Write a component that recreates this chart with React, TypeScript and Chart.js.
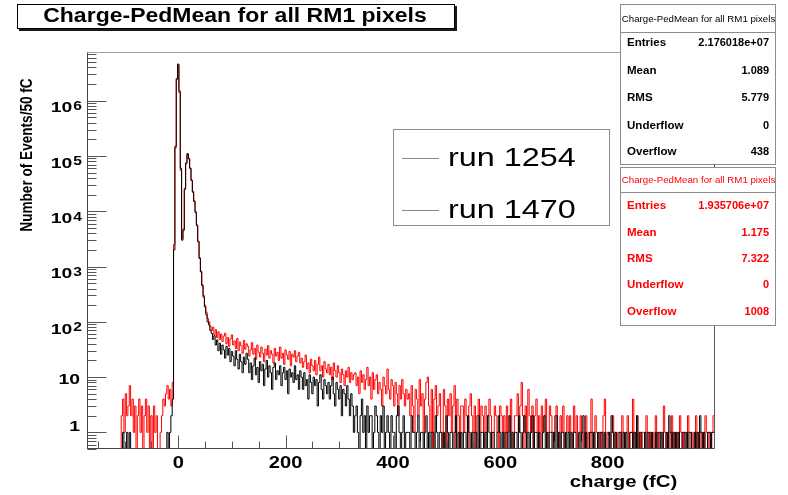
import React, { useEffect, useRef } from 'react';
import { Chart, registerables } from 'chart.js';

Chart.register(...registerables);

// ---------------- data ----------------
const TITLE = 'Charge-PedMean for all RM1 pixels';
const X_TITLE = 'charge (fC)';
const Y_TITLE = 'Number of Events/50 fC';
const SERIES_LABELS = ['run 1254', 'run 1470'];
const SERIES_COLORS = ['#000000', '#ff0000'];

const BIN_START = -171.25; // left edge of first bin (fC)
const BIN_WIDTH = 2.5; // fC
const X_MIN = -170;
const X_MAX = 1000;
const Y_MIN = 0.5;
const Y_MAX = 7.6e6;
const X_TICK_LABELS = [0, 200, 400, 600, 800];
const Y_TICK_EXPONENTS = [0, 1, 2, 3, 4, 5, 6];

// run 1254 (black); bins of 2.5 fC, centres -170 ... 997.5 (rows of 100 fC)
const RUN1254 = [
  0, 0, 0, 0, 0, 0, 0, 0, 0, 0, 0, 0, 0, 0, 0, 0, 0, 0, 0, 0, 0, 0, 0, 0, 0, 0, 0, 1, 0, 0, 1, 0, 1, 0, 0, 0, 0, 0, 0, 0,
  0, 0, 0, 0, 0, 0, 0, 0, 0, 0, 0, 0, 0, 0, 0, 0, 0, 0, 0, 0, 1, 0, 1, 2, 4, 2000, 150000, 2500000, 4600000, 1500000,
  60000, 3000, 4500, 25000, 75000, 110000, 90000, 60000, 36000, 22000,
  15000, 9500, 5500, 2800, 1400, 800, 450, 280, 185, 135, 100, 88, 70, 62, 48, 56, 38, 47, 30, 41,
  26, 38, 31, 22, 36, 25, 33, 19, 29, 24, 16, 30, 21, 14, 26, 19, 12, 23, 17, 27,
  21, 12, 18, 9, 16, 22, 11, 15, 8, 19, 13, 17, 7, 14, 20, 10, 16, 12, 6, 15,
  18, 9, 13, 11, 16, 7, 12, 15, 9, 13, 5, 14, 10, 12, 8, 16, 9, 11, 6, 13,
  10, 6, 12, 7, 9, 4, 11, 8, 5, 10, 7, 9, 3, 8, 11, 6, 4, 9, 7, 5,
  8, 4, 7, 10, 5, 3, 8, 6, 4, 7, 2, 6, 5, 3, 7, 4, 2, 5, 3, 1,
  2, 3, 1, 0, 2, 4, 1, 2, 0, 3, 1, 2, 2, 0, 1, 3, 2, 1, 0, 2,
  1, 3, 0, 1, 2, 1, 0, 2, 1, 1, 0, 2, 3, 1, 0, 1, 2, 0, 1, 1,
  1, 0, 2, 1, 1, 0, 1, 2, 0, 1, 1, 0, 1, 2, 0, 1, 0, 1, 1, 0,
  2, 1, 0, 1, 1, 0, 1, 0, 2, 1, 0, 1, 1, 0, 1, 2, 0, 1, 0, 1,
  0, 1, 1, 0, 2, 1, 0, 1, 0, 1, 1, 0, 2, 0, 1, 1, 0, 1, 0, 2,
  1, 0, 1, 1, 0, 0, 1, 2, 1, 0, 1, 0, 1, 1, 0, 2, 0, 1, 0, 1,
  1, 0, 2, 1, 0, 1, 2, 1, 0, 1, 0, 1, 2, 0, 1, 1, 0, 1, 0, 0,
  1, 2, 0, 1, 0, 1, 1, 0, 1, 0, 2, 0, 1, 0, 1, 1, 0, 1, 0, 1,
  0, 1, 0, 1, 1, 0, 0, 1, 0, 1, 2, 0, 1, 0, 0, 1, 1, 0, 1, 0,
  0, 1, 0, 1, 1, 0, 1, 0, 0, 1, 0, 2, 1, 0, 1, 0, 0, 1, 1, 0,
  1, 0, 1, 0, 0, 1, 1, 0, 1, 0, 2, 0, 1, 1, 0, 0, 1, 0, 1, 1,
  0, 1, 0, 0, 1, 0, 1, 1, 0, 1, 0, 0, 1, 0, 2, 1, 0, 1, 0, 1,
  0, 1, 0, 0, 1, 1, 0, 1, 0, 1, 1, 0, 0, 1, 0, 1, 0, 2, 1, 0, 1, 0, 0, 1, 1, 0, 1, 1,
];

// run 1470 (red)
const RUN1470 = [
  0, 0, 0, 0, 0, 0, 0, 0, 0, 0, 0, 0, 0, 0, 0, 0, 0, 0, 0, 0, 0, 0, 0, 0, 0, 0, 2, 4, 1, 5, 2, 3, 7, 2, 4, 1, 3, 0, 2, 4,
  1, 3, 0, 2, 4, 1, 3, 0, 2, 0, 3, 1, 2, 0, 0, 1, 2, 4, 3, 5, 7, 4, 6, 3, 8, 2500, 140000, 2400000, 4400000, 1400000,
  55000, 3200, 4800, 26000, 72000, 108000, 88000, 60000, 37000, 23000,
  15500, 9800, 5700, 2900, 1450, 830, 470, 300, 200, 150, 115, 100, 82, 70, 80, 58, 72, 52, 66, 48,
  60, 44, 55, 62, 40, 52, 36, 49, 58, 38, 45, 33, 50, 30, 43, 37, 27, 46, 32, 40,
  36, 24, 31, 42, 26, 33, 21, 38, 28, 23, 35, 27, 19, 32, 25, 37, 22, 30, 26, 18,
  33, 24, 28, 20, 35, 22, 27, 17, 31, 25, 21, 29, 16, 26, 23, 30, 19, 24, 28, 18,
  22, 15, 19, 25, 14, 18, 12, 21, 16, 13, 20, 11, 17, 23, 13, 16, 10, 19, 14, 12,
  17, 11, 15, 9, 18, 13, 10, 16, 12, 8, 14, 11, 7, 13, 10, 15, 8, 12, 9, 11,
  12, 7, 10, 5, 13, 8, 11, 6, 9, 15, 7, 10, 4, 12, 6, 9, 11, 5, 8, 6,
  3, 10, 7, 5, 14, 6, 4, 9, 7, 3, 8, 5, 2, 7, 4, 9, 5, 3, 6, 4,
  5, 2, 7, 3, 1, 6, 4, 2, 9, 3, 5, 1, 4, 8, 10, 3, 1, 6, 0, 4,
  7, 2, 3, 5, 1, 0, 6, 3, 0, 4, 2, 5, 1, 3, 7, 0, 4, 2, 0, 3,
  3, 1, 4, 2, 0, 3, 5, 2, 1, 3, 0, 2, 4, 1, 3, 2, 0, 3, 1, 2,
  4, 2, 0, 1, 3, 2, 1, 0, 3, 2, 1, 2, 0, 3, 1, 2, 4, 1, 0, 2,
  2, 5, 1, 3, 8, 2, 0, 3, 1, 6, 2, 1, 3, 0, 2, 4, 1, 2, 0, 3,
  1, 2, 4, 0, 1, 3, 2, 1, 0, 2, 3, 1, 0, 2, 1, 3, 0, 1, 2, 1,
  2, 1, 0, 3, 1, 2, 0, 1, 2, 1, 0, 1, 2, 0, 1, 0, 4, 1, 0, 2,
  1, 0, 1, 1, 0, 2, 4, 0, 1, 1, 0, 1, 2, 0, 1, 0, 1, 1, 0, 2,
  1, 0, 1, 2, 0, 1, 1, 4, 0, 1, 2, 0, 1, 0, 1, 1, 0, 2, 1, 0,
  1, 0, 1, 0, 2, 1, 0, 1, 1, 0, 3, 1, 0, 1, 0, 1, 2, 0, 1, 0,
  1, 0, 2, 1, 0, 1, 1, 0, 2, 1, 0, 1, 0, 1, 2, 0, 1, 1, 0, 1, 0, 2, 1, 0, 1, 0, 1, 2,
];

const STATS_LABELS = ['Entries', 'Mean', 'RMS', 'Underflow', 'Overflow'];
const STATS_1254 = ['2.176018e+07', '1.089', '5.779', '0', '438'];
const STATS_1470 = ['1.935706e+07', '1.175', '7.322', '0', '1008'];

// ---------------- helpers ----------------
const FLOOR = 0.1; // empty bins drawn below the axis minimum (clipped)

function toSteps(values: number[]) {
  const pts = values.map((v, i) => ({ x: BIN_START + i * BIN_WIDTH, y: v > 0 ? v : FLOOR }));
  const last = values[values.length - 1];
  pts.push({ x: BIN_START + values.length * BIN_WIDTH, y: last > 0 ? last : FLOOR });
  return pts;
}

const FONT = '"Liberation Sans", Arial, Helvetica, sans-serif';

function txt(
  ctx: CanvasRenderingContext2D,
  s: string,
  x: number,
  y: number,
  font: string,
  color: string,
  align: 'left' | 'center' | 'right',
  sx = 1,
  baseline: CanvasTextBaseline = 'middle'
) {
  ctx.save();
  ctx.font = font;
  ctx.fillStyle = color;
  ctx.textBaseline = baseline;
  ctx.textAlign = 'left';
  const w = ctx.measureText(s).width * sx;
  const left = align === 'left' ? x : align === 'center' ? x - w / 2 : x - w;
  ctx.translate(left, y);
  ctx.scale(sx, 1);
  ctx.fillText(s, 0, 0);
  ctx.restore();
  return w;
}

function seg(ctx: CanvasRenderingContext2D, x1: number, y1: number, x2: number, y2: number) {
  ctx.beginPath();
  ctx.moveTo(x1, y1);
  ctx.lineTo(x2, y2);
  ctx.stroke();
}

function statsBox(
  ctx: CanvasRenderingContext2D,
  x: number,
  y: number,
  w: number,
  h: number,
  divY: number,
  rowsY: number[],
  values: string[],
  color: string
) {
  ctx.fillStyle = '#ffffff';
  ctx.fillRect(x, y, w, h);
  ctx.strokeStyle = '#8c8c8c';
  ctx.lineWidth = 1;
  ctx.strokeRect(x + 0.5, y + 0.5, w, h);
  seg(ctx, x, divY + 0.5, x + w, divY + 0.5);
  txt(ctx, TITLE, x + w / 2 + 1, y + (divY - y) / 2 + 1, `9.5px ${FONT}`, color, 'center', 1.02);
  STATS_LABELS.forEach((lab, i) => {
    txt(ctx, lab, x + 7, rowsY[i], `bold 11px ${FONT}`, color, 'left', 1.05);
    txt(ctx, values[i], x + w - 6, rowsY[i], `bold 11px ${FONT}`, color, 'right', 1.0);
  });
}

const decorPlugin = {
  id: 'rootDecor',
  afterDraw(chart: any) {
    const { ctx, chartArea: a, scales } = chart;
    const xs = scales.x;
    const ys = scales.y;
    const L = Math.round(a.left) + 0.5;
    const R = Math.round(a.right) - 0.5;
    const T = Math.round(a.top) + 0.5;
    const B = Math.round(a.bottom) - 0.5;
    ctx.save();
    ctx.lineWidth = 1;

    // frame
    ctx.strokeStyle = '#a0a0a0';
    seg(ctx, L, T, R, T);
    ctx.strokeStyle = '#5a5a5a';
    seg(ctx, R, T, R, B);
    ctx.strokeStyle = '#444444';
    seg(ctx, L, T, L, B + 0.5);
    seg(ctx, L - 0.5, B, R, B);

    // y ticks (log, inward)
    ctx.strokeStyle = '#555555';
    for (let e = -1; e <= 7; e++) {
      for (let m = 1; m <= 9; m++) {
        const v = m * Math.pow(10, e);
        if (v < Y_MIN || v > Y_MAX) continue;
        const y = Math.round(ys.getPixelForValue(v)) + 0.5;
        const len = m === 1 ? 19 : 9;
        seg(ctx, L, y, L + len, y);
      }
    }
    // y labels
    Y_TICK_EXPONENTS.forEach((e) => {
      const y = ys.getPixelForValue(Math.pow(10, e));
      const fb = `bold 15.5px ${FONT}`;
      if (e === 0) {
        txt(ctx, '1', 80, y - 1, fb, '#000', 'right', 1.25, 'alphabetic');
      } else if (e === 1) {
        txt(ctx, '10', 80, y + 7.3, fb, '#000', 'right', 1.25, 'alphabetic');
      } else {
        const ew = txt(ctx, String(e), 82, y + 9.5, `bold 13px ${FONT}`, '#000', 'right', 1.2, 'alphabetic');
        txt(ctx, '10', 82 - ew - 1, y + 11.7, fb, '#000', 'right', 1.25, 'alphabetic');
      }
    });

    // x ticks (inward)
    for (let v = -150; v < X_MAX; v += 50) {
      const x = Math.round(xs.getPixelForValue(v)) + 0.5;
      const len = v % 200 === 0 ? 13 : 7;
      seg(ctx, x, B, x, B - len);
    }
    X_TICK_LABELS.forEach((v) => {
      const x = xs.getPixelForValue(v);
      txt(ctx, String(v), x, 468, `bold 16.5px ${FONT}`, '#000', 'center', 1.22, 'alphabetic');
    });

    // axis titles
    txt(ctx, X_TITLE, 623.5, 482, `bold 17px ${FONT}`, '#000', 'center', 1.2);
    ctx.save();
    ctx.translate(27, 155);
    ctx.rotate(-Math.PI / 2);
    ctx.scale(1, 1.2);
    txt(ctx, Y_TITLE, 0, 0, `bold 13.6px ${FONT}`, '#000', 'center', 1.0);
    ctx.restore();

    // title box with shadow
    ctx.fillStyle = '#ffffff';
    ctx.fillRect(17, 4, 438, 25);
    ctx.fillStyle = '#1a1a1a';
    ctx.fillRect(455, 6, 2, 25);
    ctx.fillRect(19, 29, 438, 2);
    ctx.strokeStyle = '#000000';
    ctx.strokeRect(17.5, 4.5, 437, 24);
    txt(ctx, TITLE, 235, 17, `bold 19.5px ${FONT}`, '#000', 'center', 1.18);

    // legend box
    ctx.fillStyle = '#ffffff';
    ctx.fillRect(393, 129, 217, 96);
    ctx.strokeStyle = '#8c8c8c';
    ctx.strokeRect(393.5, 129.5, 216, 96);
    const legY = [158, 210];
    chart.data.datasets.forEach((ds: any, i: number) => {
      ctx.strokeStyle = '#8a8a8a';
      seg(ctx, 402, legY[i] + 0.5, 439, legY[i] + 0.5);
      txt(ctx, ds.label, 448, legY[i] + 1, `25.5px ${FONT}`, '#000', 'left', 1.27);
    });

    // stats boxes
    statsBox(ctx, 620, 4, 155, 160, 32, [43, 71, 98, 126, 152], STATS_1254, '#000000');
    statsBox(ctx, 620, 167, 155, 158, 192, [206, 233, 259, 285, 312], STATS_1470, '#ff0000');

    ctx.restore();
  },
};

export default function App() {
  const ref = useRef<HTMLCanvasElement | null>(null);

  useEffect(() => {
    document.body.style.margin = '0';
    const canvas = ref.current;
    if (!canvas) return;
    const chart = new Chart(canvas, {
      type: 'line',
      data: {
        datasets: [
          {
            label: SERIES_LABELS[0],
            data: toSteps(RUN1254),
            borderColor: SERIES_COLORS[0],
            borderWidth: 1,
            stepped: true,
            pointRadius: 0,
            fill: false,
            clip: 0,
          },
          {
            label: SERIES_LABELS[1],
            data: toSteps(RUN1470),
            borderColor: SERIES_COLORS[1],
            borderWidth: 1,
            stepped: true,
            pointRadius: 0,
            fill: false,
            clip: 0,
          },
        ],
      } as any,
      options: {
        animation: false,
        responsive: false,
        maintainAspectRatio: false,
        devicePixelRatio: 1,
        layout: { padding: { top: 52, right: 73, left: 0, bottom: 0 } },
        plugins: {
          legend: { display: false },
          title: { display: false },
          tooltip: { enabled: false },
        },
        scales: {
          x: {
            type: 'linear',
            min: X_MIN,
            max: X_MAX,
            grid: { display: false },
            border: { display: false },
            ticks: { display: false },
            afterFit: (s: any) => {
              s.height = 46;
            },
          },
          y: {
            type: 'logarithmic',
            min: Y_MIN,
            max: Y_MAX,
            grid: { display: false },
            border: { display: false },
            ticks: { display: false },
            afterFit: (s: any) => {
              s.width = 87;
            },
          },
        },
      } as any,
      plugins: [decorPlugin],
    });
    return () => chart.destroy();
  }, []);

  return (
    <div style={{ width: 788, height: 495, background: '#ffffff' }}>
      <canvas ref={ref} width={788} height={495} style={{ display: 'block' }} />
    </div>
  );
}
